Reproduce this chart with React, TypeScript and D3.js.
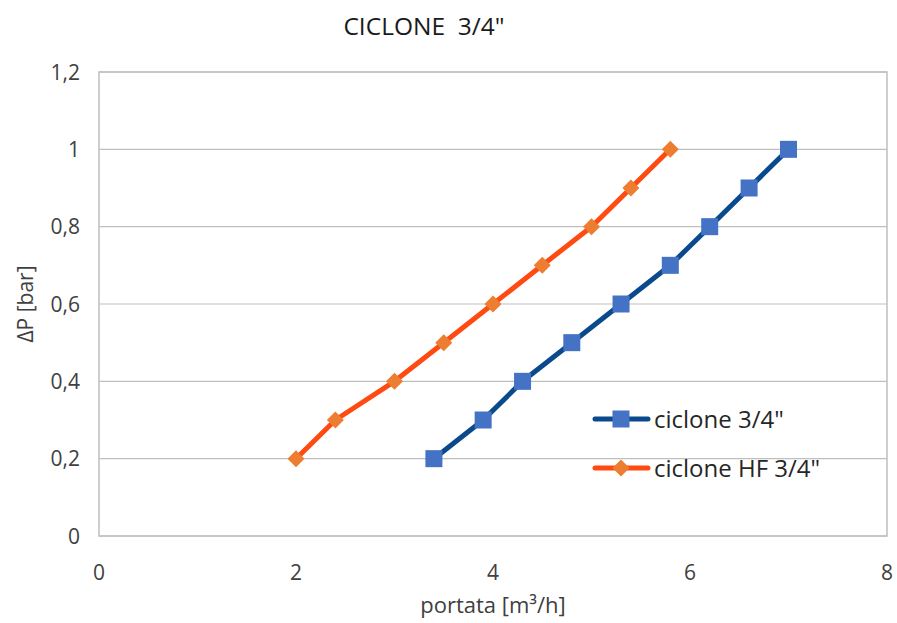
import React from "react";
import * as d3 from "d3";

const blueX = [3.4, 3.9, 4.3, 4.8, 5.3, 5.8, 6.2, 6.6, 7.0];
const blueY = [0.2, 0.3, 0.4, 0.5, 0.6, 0.7, 0.8, 0.9, 1.0];
const orangeX = [2.0, 2.4, 3.0, 3.5, 4.0, 4.5, 5.0, 5.4, 5.8];
const orangeY = [0.2, 0.3, 0.4, 0.5, 0.6, 0.7, 0.8, 0.9, 1.0];
const xTicks = [0, 2, 4, 6, 8];
const yTicks = [0, 0.2, 0.4, 0.6, 0.8, 1, 1.2];
const seriesNames = ["ciclone 3/4\"", "ciclone HF 3/4\""];

const W = 897, H = 623;
const L = 99, R = 887, T = 72, B = 536;
const font = "'Open Sans', 'Noto Sans', sans-serif";

export default function App() {
  const x = d3.scaleLinear().domain([0, 8]).range([L, R]);
  const y = d3.scaleLinear().domain([0, 1.2]).range([B, T]);
  const line = d3.line<[number, number]>().x(d => x(d[0])).y(d => y(d[1]));
  const blue: [number, number][] = blueX.map((v, i) => [v, blueY[i]]);
  const orange: [number, number][] = orangeX.map((v, i) => [v, orangeY[i]]);
  const fmt = (v: number) => String(Math.round(v * 10) / 10).replace(".", ",");
  const blueLine = "#0A4A8C";
  const blueMark = "#4472C4";
  const orLine = "#FF4A12";
  const orMark = "#ED7D31";
  const sq = 17;
  const dm = 8.5;
  const diamond = (cx: number, cy: number) =>
    `M${cx},${cy - dm}L${cx + dm},${cy}L${cx},${cy + dm}L${cx - dm},${cy}Z`;
  return (
    <svg width={W} height={H} style={{ position: "absolute", left: 0, top: 0, background: "#fff" }} fontFamily={font}>
      <rect x={0} y={0} width={W} height={H} fill="#fff" />
      {yTicks.map(t => (
        <line key={t} x1={L} x2={R} y1={y(t)} y2={y(t)} stroke="#BFBFBF" strokeWidth={1.2} />
      ))}
      <rect x={L} y={T} width={R - L} height={B - T} fill="none" stroke="#BFBFBF" strokeWidth={1.5} />
      {yTicks.map(t => (
        <text key={t} x={L - 19} y={y(t)} dy="0.36em" textAnchor="end" fontSize={21} fill="#404040">{fmt(t)}</text>
      ))}
      {xTicks.map(t => (
        <text key={t} x={x(t)} y={580} textAnchor="middle" fontSize={21} fill="#404040">{t}</text>
      ))}
      <text x={424} y={35} textAnchor="middle" fontSize={24.5} fill="#1a1a1a" xmlSpace="preserve" style={{ whiteSpace: "pre" }}>{"CICLONE  3/4\""}</text>
      <text x={493} y={613} textAnchor="middle" fontSize={22} fill="#404040">portata [m³/h]</text>
      <text transform={`translate(33,${y(0.6)}) rotate(-90)`} textAnchor="middle" fontSize={21} fill="#404040">ΔP [bar]</text>
      <path d={line(blue) || ""} fill="none" stroke={blueLine} strokeWidth={5} strokeLinejoin="round" strokeLinecap="round" />
      {blue.map((d, i) => (
        <rect key={i} x={x(d[0]) - sq / 2} y={y(d[1]) - sq / 2} width={sq} height={sq} fill={blueMark} />
      ))}
      <path d={line(orange) || ""} fill="none" stroke={orLine} strokeWidth={5} strokeLinejoin="round" strokeLinecap="round" />
      {orange.map((d, i) => (
        <path key={i} d={diamond(x(d[0]), y(d[1]))} fill={orMark} />
      ))}
      <g>
        <line x1={595} x2={648} y1={419} y2={419} stroke={blueLine} strokeWidth={5} strokeLinecap="round" />
        <rect x={621 - sq / 2} y={419 - sq / 2} width={sq} height={sq} fill={blueMark} />
        <text x={654} y={419} dy="0.36em" fontSize={24} fill="#262626">{seriesNames[0]}</text>
        <line x1={595} x2={648} y1={468} y2={468} stroke={orLine} strokeWidth={5} strokeLinecap="round" />
        <path d={diamond(621, 468)} fill={orMark} />
        <text x={654} y={468} dy="0.36em" fontSize={24} fill="#262626">{seriesNames[1]}</text>
      </g>
    </svg>
  );
}
